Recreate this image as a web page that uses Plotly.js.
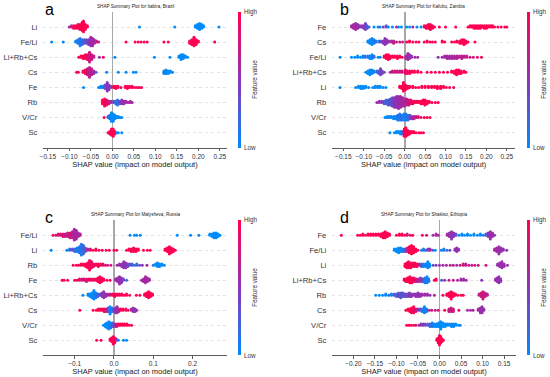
<!DOCTYPE html>
<html><head><meta charset="utf-8">
<script src="https://cdn.plot.ly/plotly-3.0.1.min.js"></script>
<style>body{margin:0;background:#fff}#c{width:550px;height:377px}</style>
</head><body><div id="c"></div>
<script>
// ---- data: each row is a list of [SHAP value, number of samples in that column, feature value 0(low)..1(high)]
const titles = ['SHAP Summary Plot for Itabira, Brazil','SHAP Summary Plot for Kafubu, Zambia','SHAP Summary Plot for Malysheva, Russia','SHAP Summary Plot for Shakiso, Ethiopia'];
const letters = ['a','b','c','d'];

const featA = ['Li','Fe/Li','Li+Rb+Cs','Cs','Fe','Rb','V/Cr','Sc'];
const shapA = [
 [[-0.100,1,0.6],[-0.095,2,0.7],[-0.090,3,0.9],[-0.085,3,1],[-0.080,4,1],[-0.075,5,1],[-0.070,8,1],[-0.067,10,1],[-0.063,5,1],[-0.058,2,1],[0.063,1,0],[0.145,1,0],[0.193,2,0],[0.198,4,0],[0.203,6,0],[0.208,4,0],[0.212,2,0],[0.248,1,0]],
 [[-0.141,1,0],[-0.114,1,0],[-0.085,2,0],[-0.080,4,0.1],[-0.075,7,0.1],[-0.070,5,0.2],[-0.065,4,0.3],[-0.060,4,0.4],[-0.055,5,0.5],[-0.050,8,0.55],[-0.046,7,0.6],[-0.042,4,0.6],[-0.037,2,0.7],[-0.032,1,0.8],[0.032,1,1],[0.053,1,1],[0.060,1,1],[0.067,1,1],[0.074,1,1],[0.081,1,1],[0.120,1,1],[0.130,1,1],[0.180,3,1],[0.185,5,1],[0.190,8,1],[0.195,5,1],[0.200,2,1],[0.238,1,1]],
 [[-0.078,1,1],[-0.073,2,1],[-0.068,3,1],[-0.063,4,1],[-0.058,5,0.9],[-0.053,9,0.8],[-0.048,5,0.8],[-0.043,2,0.7],[-0.030,1,0.5],[-0.021,1,1],[0.006,1,0],[0.098,1,0],[0.134,1,0],[0.155,2,0],[0.160,5,0],[0.165,4,0],[0.170,2,0],[0.175,1,0]],
 [[-0.083,1,1],[-0.079,1,1],[-0.068,2,1],[-0.063,4,1],[-0.058,6,0.8],[-0.053,9,0.7],[-0.048,6,0.7],[-0.043,3,0.6],[-0.038,1,0.3],[-0.013,1,0],[0.014,1,0],[0.032,1,0],[0.049,1,0],[0.055,1,0],[0.120,3,0],[0.125,4,0],[0.130,3,0],[0.135,2,0],[0.140,1,0]],
 [[-0.067,1,0],[-0.032,1,0],[-0.027,2,0],[-0.022,2,0.1],[-0.017,4,0.3],[-0.012,8,0.5],[-0.008,5,0.5],[-0.003,2,0.4],[0.003,2,1],[0.008,3,1],[0.013,2,1],[0.020,1,1],[0.030,2,1],[0.035,3,1],[0.040,2,1],[0.046,2,1],[0.052,1,1],[0.058,1,1],[0.063,1,1],[0.068,1,1]],
 [[-0.023,4,1],[-0.018,7,1],[-0.013,5,0.9],[-0.008,3,0.8],[-0.003,2,0.6],[0.003,2,0.4],[0.008,3,0.2],[0.012,5,0.1],[0.017,3,0.3],[0.022,4,0.5],[0.027,3,0.5],[0.032,2,0.6],[0.037,1,0.6],[0.042,2,0.6],[0.046,1,0.6]],
 [[-0.019,1,1],[-0.010,2,0.3],[-0.006,4,0.1],[-0.002,8,0],[0.002,7,0],[0.006,4,0],[0.010,2,0],[0.014,2,0],[0.018,1,0],[0.022,1,0]],
 [[-0.010,1,1],[-0.006,3,1],[-0.002,6,1],[0.002,7,1],[0.006,3,1],[0.010,1,0],[0.014,1,0],[0.022,1,0]]
];

const featB = ['Fe','Cs','Fe/Li','Li+Rb+Cs','Li','Rb','V/Cr','Sc'];
const shapB = [
 [[-0.130,2,0.6],[-0.125,4,0.6],[-0.120,6,0.6],[-0.115,4,0.55],[-0.110,2,0.5],[-0.105,2,0.5],[-0.100,3,0.5],[-0.096,6,0.4],[-0.092,3,0.3],[-0.087,1,0.2],[-0.075,1,0],[-0.065,1,0],[-0.060,1,0],[-0.052,1,0.5],[-0.045,2,0.3],[-0.040,1,0],[-0.030,1,0],[-0.020,1,0.6],[-0.015,1,0],[-0.008,1,0],[0.005,1,0],[0.012,1,0],[0.020,1,0.6],[0.030,1,0],[0.040,1,0],[0.048,2,1],[0.053,3,1],[0.058,4,1],[0.063,5,1],[0.068,3,1],[0.073,1,1],[0.085,1,1],[0.100,1,1],[0.125,1,1],[0.155,1,1],[0.160,2,1],[0.165,2,1],[0.170,3,1],[0.175,3,1],[0.180,3,1],[0.185,3,1],[0.190,2,1],[0.195,3,1],[0.200,3,1],[0.205,2,1],[0.210,2,1],[0.215,2,1],[0.220,1,1],[0.228,1,1],[0.236,1,1],[0.245,1,1],[0.250,1,1]],
 [[-0.090,2,0],[-0.085,4,0],[-0.080,6,0],[-0.075,4,0.1],[-0.070,2,0.1],[-0.063,2,0.2],[-0.058,2,0.3],[-0.052,3,0.5],[-0.048,6,0.5],[-0.044,4,0.5],[-0.038,2,0.6],[-0.032,2,0.6],[-0.027,3,0.7],[-0.020,1,0.8],[-0.012,1,0.8],[-0.005,1,0.7],[0.005,1,1],[0.012,2,1],[0.020,1,1],[0.028,1,1],[0.035,1,1],[0.048,1,1],[0.055,2,1],[0.062,1,1],[0.068,1,1],[0.075,1,1],[0.092,2,1],[0.098,1,1],[0.115,1,1],[0.122,1,1],[0.128,2,1],[0.135,3,1],[0.140,4,1],[0.145,5,1],[0.150,3,1],[0.155,1,1],[0.172,1,1]],
 [[-0.158,1,0],[-0.130,1,0],[-0.122,1,0],[-0.115,2,0],[-0.108,1,0],[-0.102,2,0],[-0.097,2,0.1],[-0.090,2,0.2],[-0.085,3,0],[-0.080,4,0],[-0.075,2,0.2],[-0.065,1,0],[-0.060,1,0],[-0.050,2,1],[-0.045,4,1],[-0.040,5,1],[-0.036,3,1],[-0.030,2,1],[-0.025,2,1],[-0.018,3,1],[-0.012,2,1],[-0.006,1,1],[0.003,3,0.6],[0.008,6,0.6],[0.012,4,0.55],[0.017,2,0.5],[0.025,1,0.6],[0.032,1,0.6],[0.082,1,0.5],[0.092,1,0.6],[0.098,2,0.6],[0.104,3,0.6],[0.110,3,0.6],[0.116,3,0.6],[0.122,3,0.6],[0.128,3,0.65],[0.134,2,0.7],[0.140,3,0.7],[0.146,2,0.7],[0.152,2,0.7],[0.160,1,0.8],[0.168,1,0.8],[0.178,1,0.9],[0.188,1,0.9]],
 [[-0.095,1,0],[-0.090,3,0],[-0.085,5,0],[-0.080,4,0],[-0.075,2,0.1],[-0.068,2,0.2],[-0.063,3,0.3],[-0.059,6,0.4],[-0.055,3,0.4],[-0.050,1,0.4],[-0.035,1,0.7],[-0.030,2,0.7],[-0.024,2,0.8],[-0.018,2,0.8],[-0.012,2,0.8],[-0.006,2,0.8],[0.002,4,0.9],[0.006,3,0.9],[0.012,3,1],[0.018,2,1],[0.024,2,1],[0.032,2,1],[0.040,1,1],[0.055,1,1],[0.065,1,1],[0.075,1,1],[0.085,1,1],[0.095,1,1],[0.105,1,1],[0.115,2,1],[0.122,3,1],[0.127,5,1],[0.132,4,1],[0.138,3,1],[0.145,2,1],[0.150,1,1]],
 [[-0.158,1,0],[-0.120,1,0],[-0.113,2,0],[-0.107,3,0],[-0.101,3,0],[-0.095,2,0],[-0.088,1,0],[-0.078,1,0],[-0.072,2,0],[-0.066,2,0],[-0.060,2,0],[-0.053,1,0],[-0.046,1,0],[-0.012,2,1],[-0.007,3,1],[-0.003,8,1],[0.002,5,1],[0.007,3,1],[0.012,2,1],[0.020,2,1],[0.027,1,1],[0.034,1,1],[0.042,2,1],[0.050,2,1],[0.058,2,1],[0.066,2,1],[0.073,2,1],[0.080,3,1],[0.088,3,1],[0.095,2,1],[0.102,1,1],[0.110,1,1],[0.120,1,1]],
 [[-0.068,1,0.6],[-0.062,2,0.5],[-0.056,2,0.5],[-0.050,3,0.3],[-0.045,4,0.2],[-0.040,5,0.3],[-0.035,6,0.3],[-0.030,8,0.4],[-0.025,9,0.5],[-0.020,10,0.5],[-0.015,11,0.55],[-0.010,10,0.6],[-0.005,8,0.6],[0.000,7,0.65],[0.005,6,0.7],[0.010,5,0.8],[0.015,4,0.9],[0.020,3,0.9],[0.025,2,1],[0.030,2,1],[0.035,2,1],[0.040,3,1],[0.045,4,1],[0.050,5,1],[0.055,3,1],[0.060,2,1],[0.067,1,1],[0.075,1,1],[0.082,1,1]],
 [[-0.048,1,0],[-0.043,2,0],[-0.038,2,0],[-0.033,2,0],[-0.027,3,0],[-0.022,3,0],[-0.017,5,0.1],[-0.012,6,0.1],[-0.007,5,0.2],[-0.002,6,0],[0.003,6,0.1],[0.008,5,0.2],[0.013,4,0.3],[0.018,3,0.5],[0.023,3,0.7],[0.028,2,0.8],[0.033,2,0.8],[0.040,1,1],[0.048,1,1],[0.055,1,1],[0.062,1,1]],
 [[-0.036,1,0],[-0.025,1,0],[-0.020,2,0],[-0.015,2,0],[-0.010,3,0],[-0.005,3,0.3],[-0.001,7,1],[0.003,8,1],[0.007,5,1],[0.012,3,1],[0.017,2,1],[0.022,2,1],[0.028,1,1],[0.035,1,1],[0.040,1,1],[0.046,1,1]]
];

const featC = ['Fe/Li','Li','Rb','Fe','Li+Rb+Cs','Cs','V/Cr','Sc'];
const shapC = [
 [[-0.155,1,1],[-0.148,1,0.8],[-0.142,2,0.8],[-0.136,2,0.9],[-0.130,3,0.8],[-0.124,3,0.8],[-0.118,4,0.7],[-0.112,5,0.8],[-0.106,6,0.7],[-0.101,10,0.6],[-0.096,8,0.6],[-0.091,4,0.6],[-0.086,2,0.7],[0.041,1,0],[0.052,1,0],[0.058,1,0],[0.067,1,0],[0.161,1,0],[0.195,1,0],[0.216,1,0],[0.244,2,0],[0.250,3,0],[0.255,5,0],[0.260,5,0],[0.265,3,0],[0.270,1,0]],
 [[-0.160,1,0],[-0.120,1,0],[-0.113,2,0.2],[-0.106,2,0.3],[-0.100,3,0.2],[-0.094,4,0.1],[-0.088,6,0.1],[-0.083,10,0.1],[-0.078,8,0.2],[-0.073,4,0.3],[-0.067,2,0.6],[-0.060,2,1],[-0.053,1,1],[-0.046,2,1],[-0.038,1,1],[-0.030,1,1],[-0.020,1,1],[-0.012,1,1],[0.000,1,1],[0.007,1,1],[0.032,1,1],[0.038,2,1],[0.044,3,1],[0.050,4,1],[0.056,3,1],[0.062,2,1],[0.075,1,1],[0.085,1,1],[0.092,1,1],[0.130,2,1],[0.136,4,1],[0.141,7,1],[0.146,5,1],[0.151,3,1],[0.156,1,1]],
 [[-0.104,1,1],[-0.096,1,1],[-0.090,1,1],[-0.084,2,1],[-0.078,2,1],[-0.072,3,1],[-0.067,5,1],[-0.062,9,1],[-0.057,6,0.9],[-0.052,3,0.9],[-0.046,2,1],[-0.040,3,1],[-0.034,2,1],[-0.028,2,0.8],[-0.022,1,0.9],[-0.016,1,0.8],[-0.008,1,0.8],[0.008,1,0.6],[0.014,2,0.5],[0.020,3,0.5],[0.025,6,0.5],[0.030,5,0.5],[0.035,3,0.4],[0.040,2,0.3],[0.046,2,0.3],[0.052,1,0.2],[0.058,2,0.2],[0.065,1,0.3],[0.072,1,0.5],[0.084,1,0.6],[0.100,1,0.1],[0.106,2,0],[0.111,4,0],[0.116,3,0],[0.122,2,0],[0.128,1,0]],
 [[-0.132,1,1],[-0.127,1,1],[-0.118,1,1],[-0.100,1,1],[-0.094,1,0.8],[-0.088,2,1],[-0.082,2,0.7],[-0.076,2,1],[-0.070,3,0.7],[-0.064,2,1],[-0.058,2,0.9],[-0.052,2,1],[-0.046,2,0.9],[-0.041,4,1],[-0.036,6,1],[-0.031,4,1],[-0.026,2,1],[-0.018,1,1],[-0.010,1,1],[0.004,2,0.6],[0.009,4,0.55],[0.014,7,0.55],[0.019,5,0.5],[0.024,2,0.4],[0.032,1,0.2],[0.070,1,0.5],[0.075,3,0.6],[0.080,6,0.6],[0.085,4,0.6],[0.090,2,0.6]],
 [[-0.079,1,0],[-0.066,2,0],[-0.061,3,0],[-0.056,5,0],[-0.051,8,0],[-0.046,5,0.1],[-0.041,3,0.2],[-0.035,2,0.4],[-0.030,4,0.5],[-0.026,6,0.5],[-0.021,3,0.5],[-0.016,2,0.6],[-0.010,2,0.8],[-0.004,2,0.9],[0.002,3,1],[0.008,2,1],[0.014,2,1],[0.020,2,1],[0.026,1,1],[0.032,2,1],[0.040,1,1],[0.057,1,1],[0.066,1,1],[0.078,2,1],[0.083,4,1],[0.088,6,1],[0.093,4,1],[0.098,2,1]],
 [[-0.087,1,1],[-0.053,1,1],[-0.045,1,1],[-0.040,2,1],[-0.035,2,1],[-0.030,2,1],[-0.025,3,1],[-0.020,3,0.8],[-0.015,4,0.4],[-0.010,7,0],[-0.005,4,0.1],[0.000,3,0.4],[0.004,5,0.5],[0.008,6,0.55],[0.012,3,0.7],[0.017,2,1],[0.023,2,1],[0.030,2,1],[0.036,1,1],[0.044,2,0.6],[0.049,4,0.55],[0.054,3,0.5],[0.058,1,0.5]],
 [[-0.027,1,0],[-0.022,3,0],[-0.018,5,0],[-0.013,7,0],[-0.008,5,0.1],[-0.003,4,0.3],[0.002,3,0.5],[0.007,3,0.8],[0.012,2,1],[0.017,2,1],[0.022,2,1],[0.027,2,1],[0.033,2,1],[0.039,1,1],[0.045,1,1]],
 [[-0.044,1,1],[-0.033,1,1],[-0.010,2,1],[-0.006,4,1],[-0.002,7,1],[0.002,5,1],[0.006,2,0.6],[0.011,1,0],[0.024,1,0],[0.032,1,0]]
];

const featD = ['Fe','Fe/Li','Li','Li+Rb+Cs','Rb','Cs','V/Cr','Sc'];
const shapD = [
 [[-0.228,1,1],[-0.190,1,1],[-0.184,1,1],[-0.178,2,1],[-0.172,1,1],[-0.166,2,1],[-0.160,2,1],[-0.154,2,1],[-0.148,2,1],[-0.142,2,1],[-0.136,3,1],[-0.131,5,1],[-0.126,6,1],[-0.121,4,1],[-0.116,2,1],[-0.100,1,1],[-0.093,2,1],[-0.087,2,1],[-0.081,1,1],[-0.075,2,0.8],[-0.068,1,1],[-0.062,1,1],[-0.040,1,1],[-0.030,1,0.8],[-0.015,1,0.6],[-0.008,2,0.6],[-0.003,1,0.6],[0.018,2,0.6],[0.023,4,0.55],[0.028,7,0.5],[0.033,4,0.5],[0.038,2,0.4],[0.045,1,0],[0.052,2,0],[0.058,1,0],[0.065,2,0],[0.072,1,0],[0.080,2,0],[0.088,1,0],[0.095,2,0],[0.102,1,0.1],[0.108,2,0.2],[0.113,4,0.5],[0.118,7,0.55],[0.123,4,0.55],[0.128,1,0.5]],
 [[-0.105,2,0],[-0.100,3,0],[-0.095,5,0],[-0.090,4,0],[-0.085,3,0.1],[-0.080,3,0.3],[-0.075,4,0.6],[-0.070,6,1],[-0.065,8,1],[-0.060,6,1],[-0.055,3,1],[-0.050,1,1],[-0.042,1,0],[-0.037,2,0.1],[-0.032,1,0.2],[-0.027,2,0.4],[-0.022,2,0.6],[-0.016,1,0.3],[-0.010,1,0],[0.004,1,0],[0.010,2,0.1],[0.017,1,0.2],[0.024,1,0.3],[0.036,2,0.5],[0.040,4,0.55],[0.044,2,0.5],[0.128,2,0.6],[0.133,4,0.6],[0.138,7,0.55],[0.143,4,0.55],[0.148,2,0.5],[0.156,1,0.5]],
 [[-0.080,3,1],[-0.076,5,1],[-0.072,6,1],[-0.067,5,1],[-0.062,4,1],[-0.057,4,1],[-0.052,3,1],[-0.047,2,0.8],[-0.042,3,0.3],[-0.037,3,0.1],[-0.032,3,0],[-0.027,6,0],[-0.023,3,0],[-0.015,1,0.3],[-0.008,1,0.5],[0.000,1,0.5],[0.008,1,0.6],[0.016,1,0.6],[0.025,1,0.7],[0.032,1,0.7],[0.040,1,0.6],[0.048,1,0.7],[0.055,2,0.8],[0.061,2,0.7],[0.068,1,0.8],[0.075,1,0.7],[0.082,1,0.7],[0.090,1,0.8],[0.108,1,0.8],[0.135,2,0.55],[0.140,4,0.55],[0.145,6,0.55],[0.150,3,0.55],[0.158,1,0.5]],
 [[-0.082,2,1],[-0.078,3,1],[-0.074,4,1],[-0.069,6,1],[-0.064,5,1],[-0.059,4,0.9],[-0.054,3,0.8],[-0.049,3,0.6],[-0.044,4,0.5],[-0.039,3,0.4],[-0.034,5,0.1],[-0.029,6,0],[-0.025,3,0.1],[-0.012,1,1],[-0.008,2,1],[0.005,1,0.3],[0.012,1,0.5],[0.022,1,0.7],[0.032,1,0.8],[0.042,1,0.6],[0.050,2,0.6],[0.056,2,0.55],[0.062,1,0.6],[0.098,1,0.5],[0.130,2,0.55],[0.134,4,0.55],[0.138,6,0.5],[0.142,3,0.5]],
 [[-0.148,1,0],[-0.140,1,0],[-0.132,1,0],[-0.125,2,0],[-0.118,1,0.2],[-0.112,2,0],[-0.106,2,0.3],[-0.100,3,0.2],[-0.095,4,0.4],[-0.090,5,0.3],[-0.085,4,0.3],[-0.080,3,0.4],[-0.075,3,0.3],[-0.070,4,0.5],[-0.065,3,0.5],[-0.060,2,0.5],[-0.055,3,0.5],[-0.050,4,0.5],[-0.045,3,0.5],[-0.040,2,0.6],[-0.034,2,0.5],[-0.028,2,0.6],[-0.022,1,0.5],[-0.012,1,0.6],[0.008,1,1],[0.017,2,1],[0.022,4,1],[0.027,7,1],[0.032,4,1],[0.037,2,1],[0.043,1,1],[0.050,1,1],[0.055,1,1],[0.092,2,0.7],[0.097,4,0.8],[0.101,7,0.8],[0.106,4,0.7],[0.111,2,0.7]],
 [[-0.078,1,1],[-0.073,2,1],[-0.069,3,1],[-0.065,5,1],[-0.060,6,1],[-0.055,3,0.8],[-0.050,2,0.6],[-0.045,2,0.3],[-0.040,3,0.1],[-0.035,6,0],[-0.030,3,0.1],[-0.024,1,0.6],[-0.018,1,0.8],[-0.010,1,0.7],[-0.003,1,0.9],[0.012,1,1],[0.022,3,0.8],[0.027,4,0.7],[0.032,3,0.8],[0.045,1,0.9],[0.065,1,0.6],[0.072,1,0.6],[0.078,1,0.6],[0.090,2,0.6],[0.095,5,0.55],[0.099,6,0.55],[0.103,2,0.5]],
 [[-0.076,1,1],[-0.071,1,1],[-0.066,1,1],[-0.060,1,1],[-0.055,1,0.8],[-0.048,1,0.6],[-0.043,2,0.5],[-0.038,2,0.5],[-0.033,2,0.4],[-0.027,2,0.3],[-0.022,3,0.2],[-0.017,4,0.1],[-0.012,3,0],[-0.007,3,0],[-0.002,4,0],[0.003,7,0],[0.008,4,0],[0.013,3,0],[0.018,2,0],[0.023,2,0],[0.028,3,0],[0.033,3,0],[0.038,2,0],[0.044,1,0],[0.048,1,0]],
 [[-0.006,2,1],[-0.003,5,1],[0.000,9,1],[0.003,6,1],[0.006,3,1],[0.009,1,1]]
];

const ticksA = [-0.15,-0.10,-0.05,0,0.05,0.10,0.15,0.20,0.25];
const ticksB = [-0.15,-0.10,-0.05,0,0.05,0.10,0.15,0.20,0.25];
const ticksC = [-0.1,0,0.1,0.2];
const ticksD = [-0.20,-0.15,-0.10,-0.05,0,0.05,0.10,0.15];

// ---- layout helpers
const W = 550, H = 377;
const px = v => v / W, py = v => 1 - v / H;
const DY = 0.08, CAP = 0.42;
const FONT = 'Liberation Sans, Arial, sans-serif';
const scale = [[0,'#008bfb'],[0.5,'#8f33b5'],[1,'#ff0052']];

function swarm(feat, rows, xa, ya, ca) {
  const x = [], y = [], c = [];
  const n = feat.length;
  rows.forEach((row, i) => {
    const yc = n - 1 - i;
    row.forEach(([v, cnt, col]) => {
      for (let k = 0; k < cnt; k++) {
        let off = Math.ceil(k / 2) * (k % 2 ? 1 : -1) * DY;
        off = Math.max(-CAP, Math.min(CAP, off));
        x.push(v); y.push(yc + off); c.push(col);
      }
    });
  });
  return {type:'scatter', mode:'markers', x, y, xaxis:xa, yaxis:ya,
    marker:{size:3, color:c, coloraxis:ca, line:{width:0}}, hoverinfo:'skip', showlegend:false};
}

const panels = [
  {feat:featA, rows:shapA, ticks:ticksA, fmt:'.2f', xd:[43.3,226.7], yd:[11.9,147.8], xr:[-0.1605,0.266], zw:1.2, cbx:238, hx:242, lx:44},
  {feat:featB, rows:shapB, ticks:ticksB, fmt:'.2f', xd:[332.3,515], yd:[11.9,147.8], xr:[-0.177,0.270], zw:2.2, cbx:527, hx:531, lx:339},
  {feat:featC, rows:shapC, ticks:ticksC, fmt:'.1f', xd:[43.3,226.7], yd:[220.3,355.3], xr:[-0.180,0.287], zw:2, cbx:238, hx:242, lx:44},
  {feat:featD, rows:shapD, ticks:ticksD, fmt:'.2f', xd:[332.3,515.7], yd:[220.3,355.3], xr:[-0.249,0.177], zw:1.2, cbx:527, hx:531, lx:339}
];

const traces = [];
const layout = {width:W, height:H, margin:{l:0,r:0,t:0,b:0}, paper_bgcolor:'#fff', plot_bgcolor:'#fff',
  font:{family:FONT, color:'#333'}, annotations:[], showlegend:false};

panels.forEach((p, i) => {
  const s = i === 0 ? '' : String(i + 1);
  const ca = 'coloraxis' + s;
  traces.push(swarm(p.feat, p.rows, 'x' + s, 'y' + s, ca));
  layout['xaxis' + s] = {domain:[px(p.xd[0]), px(p.xd[1])], anchor:'y' + s, range:p.xr,
    tickvals:p.ticks, tickformat:p.fmt, showgrid:false, zeroline:true, zerolinecolor:'#a8a8a8', zerolinewidth:p.zw,
    showline:true, linecolor:'#333', linewidth:0.8, ticks:'outside', ticklen:2.5, tickwidth:0.8, tickcolor:'#333',
    tickfont:{size:6.5, color:'#333'},
    title:{text:'SHAP value (impact on model output)', font:{size:7.5, color:'#222'}, standoff:0}, automargin:false, fixedrange:true};
  layout['yaxis' + s] = {domain:[py(p.yd[1]), py(p.yd[0])], anchor:'x' + s, range:[-1, p.feat.length],
    tickvals:p.feat.map((_, k) => k), ticktext:p.feat.slice().reverse(), showline:false, zeroline:false,
    showgrid:true, gridcolor:'#d0d0d0', griddash:'dot', gridwidth:0.6, ticks:'', ticklabelstandoff:5,
    tickfont:{size:7.6, color:'#333'}, automargin:false, fixedrange:true};
  const cy = (p.yd[0] + p.yd[1]) / 2;
  layout[ca] = {cmin:0, cmax:1, colorscale:scale, colorbar:{x:px(p.cbx), xanchor:'left', xref:'paper',
    y:py(cy), yanchor:'middle', yref:'paper', len:p.yd[1] - p.yd[0], lenmode:'pixels', thickness:2.5,
    outlinewidth:0, showticklabels:false, ticks:'', xpad:0, ypad:0}};
  const ann = layout.annotations;
  ann.push({text:letters[i], xref:'paper', yref:'paper', x:px(p.lx), y:py(p.yd[0] - 11.9), borderpad:0,
    xanchor:'left', yanchor:'top', showarrow:false, font:{size:16, color:'#000', family:FONT}});
  ann.push({text:titles[i], xref:'paper', yref:'paper', x:px((p.xd[0] + p.xd[1]) / 2), y:py(p.yd[0] - 5.5),
    xanchor:'center', yanchor:'middle', showarrow:false, font:{size:4.6, color:'#222', family:FONT}});
  ann.push({text:'High', xref:'paper', yref:'paper', x:px(p.hx), y:py(p.yd[0]),
    xanchor:'left', yanchor:'middle', showarrow:false, font:{size:6.3, color:'#333', family:FONT}});
  ann.push({text:'Low', xref:'paper', yref:'paper', x:px(p.hx), y:py(p.yd[1]),
    xanchor:'left', yanchor:'middle', showarrow:false, font:{size:6.3, color:'#333', family:FONT}});
  ann.push({text:'Feature value', xref:'paper', yref:'paper', x:px(p.cbx + 17), y:py(cy),
    xanchor:'center', yanchor:'middle', textangle:-90, showarrow:false, font:{size:6.3, color:'#333', family:FONT}});
});

Plotly.newPlot('c', traces, layout, {staticPlot:true, displayModeBar:false});
</script>
</body></html>
